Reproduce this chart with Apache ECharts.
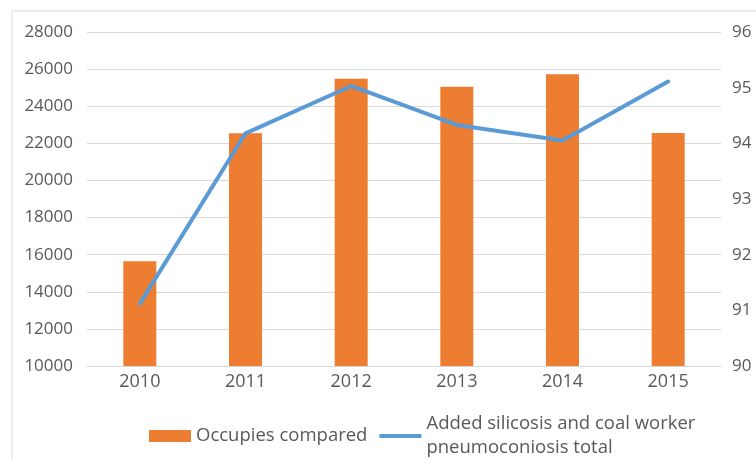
<!DOCTYPE html>
<html>
<head>
<meta charset="utf-8">
<script src="https://cdn.jsdelivr.net/npm/echarts@6/dist/echarts.min.js"></script>
<style>
  html, body { margin: 0; padding: 0; background: #fff; }
  #chart { width: 756px; height: 459px; }
</style>
</head>
<body>
<div id="chart"></div>
<script>
// Yearly figures
const years = ['2010', '2011', '2012', '2013', '2014', '2015'];
const occupiesCompared = [15650, 22550, 25480, 25050, 25720, 22560];
const pneumoconiosisTotal = [91.12, 94.18, 95.03, 94.33, 94.05, 95.11];

const barName = 'Occupies compared';
const lineName = 'Added silicosis and coal worker\npneumoconiosis total';

const textColor = '#595959';
const gridColor = '#d9d9d9';
const barColor = '#ED7D31';
const lineColor = '#5B9BD5';
const fontFamily = '"Open Sans", "Noto Sans", sans-serif';

const chart = echarts.init(document.getElementById('chart'), null, { renderer: 'canvas' });

chart.setOption({
  animation: false,
  backgroundColor: '#ffffff',
  textStyle: { fontFamily: fontFamily, color: textColor },
  graphic: [{
    type: 'rect',
    left: 9.5, top: 8.5,
    shape: { width: 760, height: 460 },
    style: { fill: 'none', stroke: gridColor, lineWidth: 1 },
    silent: true,
    z: -1
  }],
  grid: { left: 87, right: 35, top: 32, bottom: 93, containLabel: false },
  legend: {
    left: 144, top: 407,
    itemWidth: 42, itemHeight: 12, itemGap: 12,
    textStyle: { fontSize: 18.5, color: textColor, fontFamily: fontFamily, lineHeight: 24 },
    data: [
      { name: barName, icon: 'rect', itemStyle: { color: barColor } },
      { name: lineName, icon: 'path://M0,0 L42,0 L42,4 L0,4 Z', itemStyle: { color: lineColor } }
    ]
  },
  xAxis: {
    type: 'category',
    data: years,
    axisLine: { show: true, lineStyle: { color: gridColor } },
    axisTick: { show: false },
    axisLabel: { fontSize: 18, color: textColor, margin: 7 }
  },
  yAxis: [{
    type: 'value',
    min: 10000, max: 28000, interval: 2000,
    axisLine: { show: false },
    axisTick: { show: false },
    splitLine: { lineStyle: { color: gridColor } },
    axisLabel: { fontSize: 17, color: textColor, margin: 14, formatter: v => String(v) }
  }, {
    type: 'value',
    min: 90, max: 96, interval: 1,
    position: 'right',
    axisLine: { show: false },
    axisTick: { show: false },
    splitLine: { show: false },
    axisLabel: { fontSize: 17, color: textColor, margin: 11 }
  }],
  series: [{
    name: barName,
    type: 'bar',
    data: occupiesCompared,
    barWidth: 33,
    itemStyle: { color: barColor }
  }, {
    name: lineName,
    type: 'line',
    yAxisIndex: 1,
    data: pneumoconiosisTotal,
    symbol: 'none',
    lineStyle: { color: lineColor, width: 4, cap: 'round', join: 'round' },
    itemStyle: { color: lineColor }
  }]
});
</script>
</body>
</html>
